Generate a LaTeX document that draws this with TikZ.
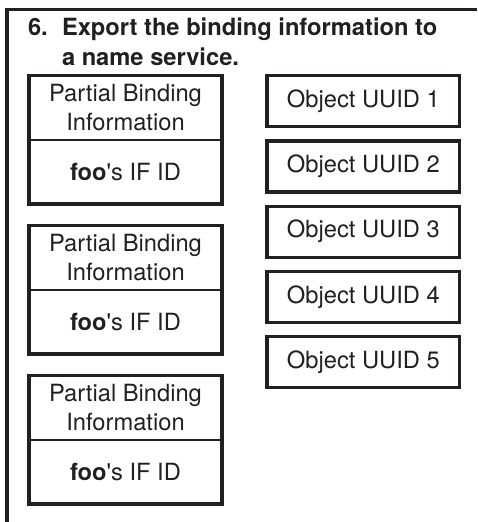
\documentclass[tikz,border=0pt]{standalone}
\usepackage{fontspec}
\setmainfont{TeX Gyre Heros}
\definecolor{ink}{HTML}{231F20}
\begin{document}
\begin{tikzpicture}[x=1pt,y=-1pt,
  every node/.style={inner sep=0pt, outer sep=0pt, text=ink,
    font=\fontsize{23.7}{29}\selectfont},
  frame/.style={draw=ink, line width=3.2pt, line join=miter},
  divider/.style={draw=ink, line width=1.4pt},
  upper/.style={minimum width=193pt, minimum height=64.5pt, align=center, anchor=north west},
  lower/.style={minimum width=193pt, minimum height=64pt, anchor=north},
  uuid/.style={draw=ink, line width=3.2pt, minimum width=192.7pt, minimum height=51pt, anchor=north west},
  title/.style={anchor=base west, font=\bfseries\fontsize{23.7}{29}\selectfont}]
\useasboundingbox (0,0) rectangle (477,522);
% outer frame (top and left edges)
\coordinate (fs) at (7,522);
\coordinate (fc) at (7,9.5);
\coordinate (fe) at (477,9.5);
\draw[frame] (fs) -- (fc) -- (fe);
% title
\node[title] (num) at (28,35) {6.};
\node[title] (t1) at (62,35) {Export the binding information to};
\node[title] (t2) at (62,65) {a name service.};
% left boxes
\foreach \i/\y in {1/75.5, 2/225.5, 3/375.5} {
  \node[upper] (pb\i) at (29,\y) {Partial Binding\\Information};
  \node[lower] (id\i) at (pb\i.south) {\textbf{foo}\textquotesingle s IF ID};
  \draw[divider] (pb\i.south west) -- (pb\i.south east);
  \draw[frame] (pb\i.north west) rectangle (id\i.south east);
}
% right boxes
\foreach \i/\y in {1/75.7, 2/140.9, 3/206.1, 4/271.4, 5/336.7} {
  \node[uuid] (u\i) at (267,\y) {Object UUID \i};
}
\end{tikzpicture}
\end{document}
